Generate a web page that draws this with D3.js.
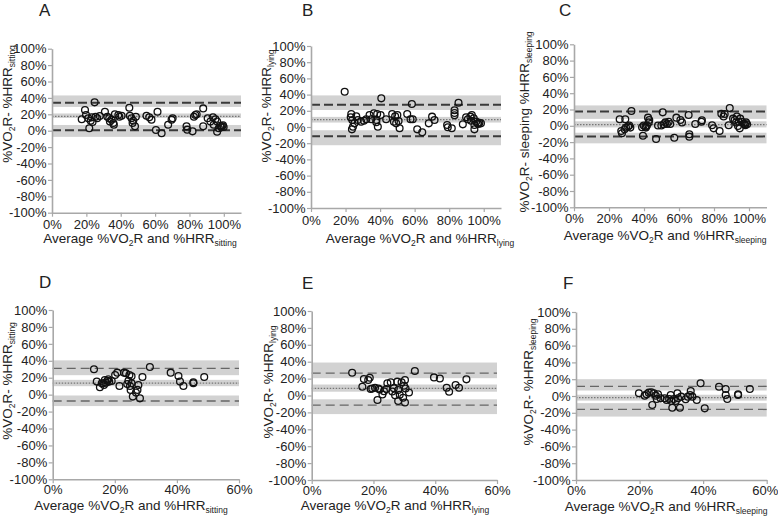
<!DOCTYPE html>
<html><head><meta charset="utf-8">
<script src="https://cdn.jsdelivr.net/npm/d3@7"></script>
<style>
body{margin:0;background:#fff}
svg{display:block}
text{font-family:"Liberation Sans",Arial,Helvetica,sans-serif;fill:#222}
</style>
</head><body>
<svg id="chart" width="778" height="516"></svg>
<script>
// ---------- data ----------
const panelLetters = ["A","B","C","D","E","F"];
const conditions = ["sitting","lying","sleeping","sitting","lying","sleeping"];
const yTickValues = [100,80,60,40,20,0,-20,-40,-60,-80,-100];
const xTickValuesTop = [0,20,40,60,80,100];
const xTickValuesBottom = [0,20,40,60];
const xDomainMax = [110,110,110,60,60,60];

// Bland-Altman lines (%)
const meanDiff   = [17.5, 9, 1.5, 13.5, 8.5, -2];
const upperLoA   = [34, 27.5, 17.5, 31, 26.5, 11.5];
const lowerLoA   = [0.5, -11.5, -13, -7.5, -11.5, -16];
// 95% CI bands (low, high)
const upperCI = [[29,43],[21,39],[8.5,25],[23,40.5],[20.5,39],[6.5,20]];
const meanCI  = [[15.5,21],[5.5,12.5],[-2,5.5],[10,17.5],[4.5,13],[-5.5,1.5]];
const lowerCI = [[-7.5,7],[-22.5,-4],[-21.5,-8.5],[-13.5,-1],[-22,-4.5],[-24.5,-8.5]];

// Panel A points: average, difference
const aAvg  = [17.3,19.2,19.8,21.7,21.1,22.5,23.1,23.6,24.8,25.4,26.3,27.8,30.8,32.2,33.3,33.7,34.7,35.7,36.0,36.6,38.6,39.2,40.5,45.0,45.3,46.3,46.9,47.3,48.3,48.8,55.0,56.6,57.9,61.4,60.5,63.8,67.6,69.6,70.2,78.3,78.7,81.8,82.6,83.4,84.2,88.0,88.0,90.6,92.2,93.7,94.1,95.1,96.1,97.1,96.1,98.0,98.9,99.5,99.9,98.4];
const aDiff = [13.9,25.2,19.1,2.9,15.1,12.2,16.3,10.6,34.6,17.1,15.1,17.9,23.2,17.1,15.1,11.1,13.5,9.3,7.3,20.0,19.1,17.1,18.3,28.0,18.3,15.1,9.3,12.2,5.3,17.1,18.3,16.3,13.5,23.2,0.9,-3.1,7.3,13.5,15.1,5.3,1.3,-0.8,17.1,19.1,20.0,27.2,5.3,15.1,11.1,16.3,7.3,13.9,11.1,2.9,-1.2,6.1,5.3,6.5,4.5,4.1];
// Panel B
const bAvg  = [19.5,23.3,23.0,23.9,24.3,25.2,26.2,23.7,27.1,29.0,30.6,32.0,33.9,34.9,36.4,37.8,37.8,38.3,38.7,40.3,40.7,43.5,47.0,48.0,48.7,49.3,50.7,51.3,50.0,55.7,57.6,58.4,58.9,61.5,64.4,68.2,70.1,71.5,78.8,79.2,81.5,83.1,83.1,83.1,85.4,87.9,89.8,90.8,92.3,92.7,93.1,94.2,94.6,94.6,95.6,96.5,97.5,98.4,96.9];
const bDiff = [43.6,16.0,11.9,8.6,0.4,4.5,13.2,-2.9,8.6,6.6,7.8,9.5,14.8,9.5,16.9,5.8,8.6,16.0,0.4,14.8,35.4,9.5,16.0,6.6,13.2,4.5,7.4,-1.6,14.8,16.0,9.5,28.4,9.5,-2.9,-6.6,4.5,12.8,8.6,2.5,-0.4,-1.6,20.6,17.3,14.4,30.0,3.3,11.9,9.5,12.8,7.8,14.8,10.7,2.5,-2.9,6.6,4.5,5.3,4.5,3.7];
// Panel C
const cAvg  = [26.1,29.3,27.0,27.4,28.9,29.7,30.9,31.6,32.8,32.2,38.9,39.8,39.4,40.8,41.7,42.3,43.0,42.7,41.1,46.9,48.0,49.9,50.7,51.2,52.2,53.1,54.1,55.0,57.3,58.5,60.8,61.7,65.5,65.9,65.9,69.3,72.8,73.1,78.9,79.8,83.2,84.2,85.5,86.1,89.0,88.4,90.9,91.8,92.6,93.1,93.7,94.1,94.7,95.0,96.0,96.9,97.5,98.3,98.9,97.9];
const cDiff = [8.0,8.0,-6.3,-9.2,-4.2,-2.2,-1.0,0.3,18.1,-2.2,-1.8,0.3,-12.2,-1.0,0.3,10.0,7.1,4.2,-2.2,-16.2,0.3,0.3,16.5,1.9,4.2,2.3,5.0,2.3,-14.6,10.0,7.1,4.2,13.2,-10.4,-13.3,2.3,5.0,6.7,0.7,-3.1,-6.3,14.8,11.5,14.4,21.7,0.7,8.8,7.1,4.2,11.5,-0.3,5.0,-3.1,8.8,5.0,2.9,1.9,4.2,1.9,0.7];
// Panel D
const dAvg  = [13.3,14.2,15.2,15.8,16.5,16.8,17.2,17.6,17.9,18.2,19.0,16.3,20.1,20.8,21.5,23.0,23.6,24.4,24.0,24.7,24.9,25.1,25.4,25.8,26.8,27.6,27.3,28.1,25.4,28.9,31.3,38.0,40.5,41.0,42.1,45.3,45.3,48.8];
const dDiff = [30.0,15.4,8.7,13.4,11.4,17.3,14.2,16.5,18.1,15.4,16.1,13.4,23.2,26.0,10.3,26.0,25.2,16.5,12.6,23.2,10.3,5.6,21.6,-2.3,2.4,11.4,5.6,-4.4,13.4,20.8,32.6,26.0,22.0,15.4,10.3,14.6,13.4,20.8];
// Panel E
const eAvg  = [13.1,16.4,16.9,18.3,18.8,19.1,19.6,20.5,21.3,21.6,22.0,22.9,23.4,24.2,24.5,25.6,26.1,26.6,27.0,27.7,28.0,28.0,28.5,29.1,29.6,29.9,30.2,30.2,30.4,31.5,33.4,39.6,41.5,43.7,44.5,46.6,47.7,50.1];
const eDiff = [27.0,10.4,19.5,18.3,21.0,7.7,8.3,9.1,-5.4,8.3,7.1,1.2,5.1,7.7,14.4,15.6,4.7,8.7,0.4,16.4,-6.5,6.5,0.8,15.6,-2.6,11.6,18.3,-8.2,8.3,3.6,29.0,21.4,20.2,9.1,4.5,12.4,9.1,19.1];
// Panel F
const fAvg  = [19.8,21.6,22.2,22.9,23.7,24.0,24.5,25.1,25.4,25.8,26.6,27.9,28.5,29.3,29.8,30.0,30.3,30.8,31.4,31.9,32.1,32.7,33.1,34.5,35.2,35.9,36.1,36.6,38.0,39.2,40.5,45.0,47.1,47.1,47.6,51.0,51.0,54.7];
const fDiff = [3.2,0.4,2.0,4.0,4.4,-10.7,3.2,0.4,-3.6,2.0,-2.8,-2.8,-4.8,-3.6,1.2,-6.0,-13.9,-3.6,-6.0,3.2,-2.8,-13.9,-0.8,-3.9,-0.8,1.2,6.0,-0.8,-4.8,15.1,-14.7,11.1,8.3,1.2,-3.6,2.0,1.2,8.3];

const panelAvg  = [aAvg,bAvg,cAvg,dAvg,eAvg,fAvg];
const panelDiff = [aDiff,bDiff,cDiff,dDiff,eDiff,fDiff];

// ---------- layout ----------
const layout = [
  {l:52,   r:241,   t:48.7, b:212.7, lx:39,  ly:16,  ytx:11.5, yty:104, xtx:140, xty:243, pad:3},
  {l:311,  r:501,   t:46,   b:208,   lx:302, ly:16,  ytx:271,  yty:106, xtx:420, xty:243, pad:3.5},
  {l:574,  r:766.5, t:44.3, b:207.3, lx:559, ly:16,  ytx:529,  yty:122, xtx:665, xty:240, pad:2.5},
  {l:52.7, r:239,   t:310,  b:479.3, lx:39,  ly:288, ytx:11.5, yty:381, xtx:131, xty:509.5, pad:1.5},
  {l:311.7,r:497,   t:311,  b:480,   lx:302, ly:289, ytx:273,  yty:382, xtx:395, xty:510, pad:1.5},
  {l:576,  r:766.7, t:312,  b:480,   lx:563, ly:289, ytx:533,  yty:382, xtx:666, xty:511, pad:1.5}
];

const svg = d3.select("#chart");
const FS = 13, SUB = 8.5, TFS = 13.5;

layout.forEach((L, i) => {
  const g = svg.append("g");
  const x = d3.scaleLinear().domain([0, xDomainMax[i]]).range([L.l, L.r]);
  const y = d3.scaleLinear().domain([-100, 100]).range([L.b, L.t]);
  const topRow = i < 3;

  // bands
  [upperCI[i], meanCI[i], lowerCI[i]].forEach(b => {
    g.append("rect").attr("x", L.l).attr("width", L.r - L.l)
      .attr("y", y(b[1])).attr("height", y(b[0]) - y(b[1]))
      .attr("fill", "#d2d2d2");
  });
  // LoA lines
  [upperLoA[i], lowerLoA[i]].forEach(v => {
    g.append("line").attr("x1", L.l).attr("x2", L.r).attr("y1", y(v)).attr("y2", y(v))
      .attr("stroke", topRow ? "#3a3a3a" : "#666")
      .attr("stroke-width", topRow ? 2 : 1.3)
      .attr("stroke-dasharray", topRow ? "9,4" : "9,5");
  });
  g.append("line").attr("x1", L.l).attr("x2", L.r).attr("y1", y(meanDiff[i])).attr("y2", y(meanDiff[i]))
    .attr("stroke", "#777").attr("stroke-width", 1.3).attr("stroke-dasharray", "1.5,1.5");

  // axes
  const ya = g.append("g").attr("transform", `translate(${L.l},0)`)
    .call(d3.axisLeft(y).tickValues(yTickValues).tickFormat(d => d + "%").tickSize(4).tickSizeOuter(0).tickPadding(1.5));
  const xa = g.append("g").attr("transform", `translate(0,${L.b})`)
    .call(d3.axisBottom(x).tickValues(topRow ? xTickValuesTop : xTickValuesBottom).tickFormat(d => d + "%").tickSize(4).tickSizeOuter(0).tickPadding(L.pad));
  [ya, xa].forEach(a => {
    a.select(".domain").attr("stroke", "#a8a8a8").attr("stroke-width", 1.6);
    a.selectAll(".tick line").attr("stroke", "#a8a8a8").attr("stroke-width", 1.2);
    a.selectAll(".tick text").attr("font-size", FS).attr("fill", "#222")
      .attr("font-family", '"Liberation Sans",Arial,sans-serif');
  });
  if (i === 5) xa.selectAll(".tick text").filter(d => d === 60).attr("dx", -2);

  // points
  g.append("g").selectAll("circle")
    .data(panelAvg[i].map((v, k) => [v, panelDiff[i][k]]))
    .join("circle")
    .attr("cx", d => x(d[0])).attr("cy", d => y(d[1])).attr("r", 3.4)
    .attr("fill", "none").attr("stroke", "#111").attr("stroke-width", 1.3);

  // panel letter
  g.append("text").attr("x", L.lx).attr("y", L.ly).attr("font-size", 17).text(panelLetters[i]);

  // x title
  const xt = g.append("text").attr("x", L.xtx).attr("y", L.xty).attr("font-size", TFS).attr("text-anchor", "middle");
  xt.append("tspan").text("Average %VO");
  xt.append("tspan").attr("font-size", SUB).attr("dy", 3).text("2");
  xt.append("tspan").attr("dy", -3).text("R and %HRR");
  xt.append("tspan").attr("font-size", SUB).attr("dy", 3).text(conditions[i]);

  // y title
  const yt = g.append("text").attr("transform", `translate(${L.ytx},${L.yty}) rotate(-90)`)
    .attr("font-size", TFS).attr("text-anchor", "middle");
  yt.append("tspan").text("%VO");
  yt.append("tspan").attr("font-size", SUB).attr("dy", 3).text("2");
  yt.append("tspan").attr("dy", -3).text(i === 2 ? "R- sleeping %HRR" : "R- %HRR");
  yt.append("tspan").attr("font-size", SUB).attr("dy", 3).text(conditions[i]);
});
</script>
</body></html>
